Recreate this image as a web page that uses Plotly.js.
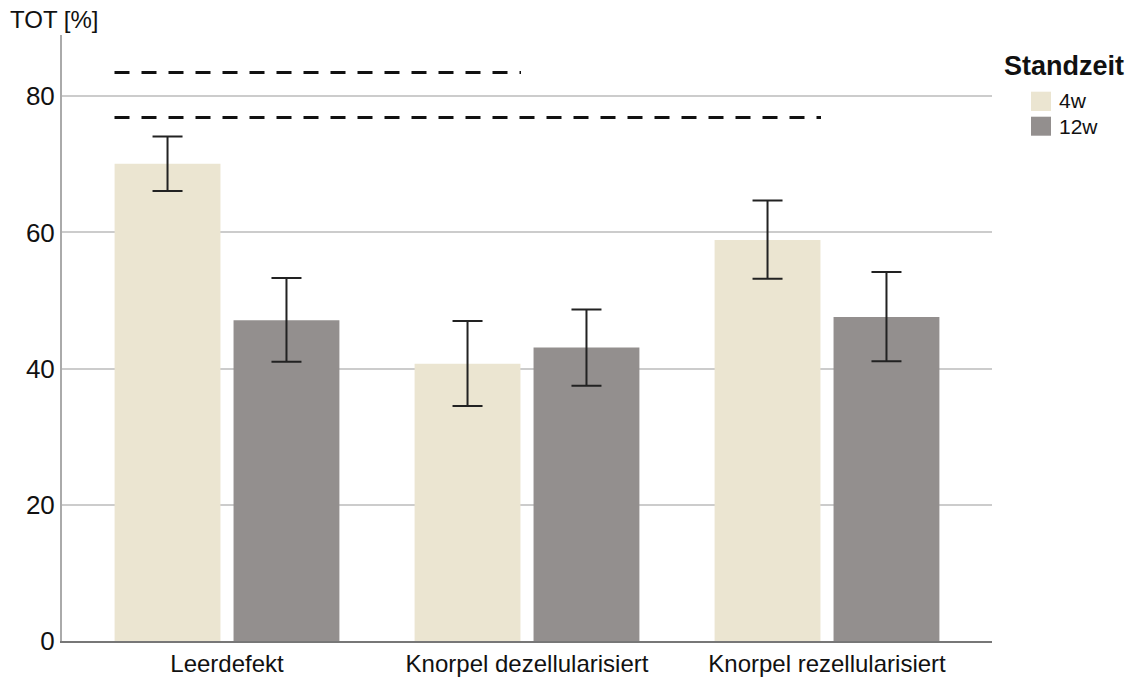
<!DOCTYPE html>
<html>
<head>
<meta charset="utf-8">
<script src="https://cdn.plot.ly/plotly-3.0.1.min.js"></script>
<style>html,body{margin:0;padding:0;background:#fff;}#chart{width:1131px;height:677px;}</style>
</head>
<body>
<div id="chart"></div>
<script>
const categories = ["Leerdefekt", "Knorpel dezellularisiert", "Knorpel rezellularisiert"];
const seriesNames = ["4w", "12w"];
const series4w = [70.1, 40.7, 58.9];
const err4wUpper = [74.1, 47.0, 64.7];
const err4wLower = [66.1, 34.5, 53.2];
const series12w = [47.1, 43.1, 47.6];
const err12wUpper = [53.3, 48.7, 54.2];
const err12wLower = [41.0, 37.5, 41.1];
const yTicks = [0, 20, 40, 60, 80];
// significance brackets: level and span (in category units)
const sigLevels = [83.5, 76.9];
const sigFrom = [-0.375, -0.375];
const sigTo = [0.98, 1.98];

const colors = ["#ebe5d1", "#938f8e"];
const errStyle = {type: "data", symmetric: false, color: "#222222", thickness: 2, width: 15};

function errs(vals, up, lo) {
  return {
    ...errStyle,
    array: up.map((u, i) => u - vals[i]),
    arrayminus: lo.map((l, i) => vals[i] - l)
  };
}

const traces = [
  {type: "bar", name: seriesNames[0], x: categories, y: series4w, marker: {color: colors[0]},
   error_y: errs(series4w, err4wUpper, err4wLower), hoverinfo: "none"},
  {type: "bar", name: seriesNames[1], x: categories, y: series12w, marker: {color: colors[1]},
   error_y: errs(series12w, err12wUpper, err12wLower), hoverinfo: "none"}
];

const shapes = sigLevels.map((lv, i) => ({
  type: "line", xref: "x", yref: "y",
  x0: sigFrom[i], x1: sigTo[i], y0: lv, y1: lv,
  line: {color: "#111111", width: 3, dash: "15px,12px"}
}));

// custom legend (paper coordinates)
const legSwX = [1.04194, 1.06344];
const legSwY = [[0.87459, 0.90644], [0.83383, 0.86518]];
const legTextY = [0.89109, 0.84983];
seriesNames.forEach((n, i) => {
  shapes.push({type: "rect", xref: "paper", yref: "paper",
    x0: legSwX[0], x1: legSwX[1], y0: legSwY[i][0], y1: legSwY[i][1],
    fillcolor: colors[i], line: {width: 0}});
});

const annotations = [
  {text: "TOT [%]", xref: "paper", yref: "paper", x: -0.058, y: 1.0,
   xanchor: "left", yanchor: "bottom", yshift: 0, showarrow: false,
   font: {size: 24, color: "#111"}},
  {text: "<b>Standzeit</b>", xref: "paper", yref: "paper", x: 1.0105, y: 0.94884,
   xanchor: "left", yanchor: "middle", showarrow: false,
   font: {size: 27, color: "#111"}}
];
seriesNames.forEach((n, i) => {
  annotations.push({text: n, xref: "paper", yref: "paper", x: 1.0695, y: legTextY[i],
    xanchor: "left", yanchor: "middle", showarrow: false,
    font: {size: 21, color: "#111"}});
});

const layout = {
  width: 1131, height: 677,
  margin: {l: 62, r: 139, t: 35, b: 36},
  paper_bgcolor: "#fff", plot_bgcolor: "#fff",
  font: {family: "Liberation Sans, Arial, sans-serif", color: "#111"},
  barmode: "group", bargap: 0.207, bargroupgap: 0.11,
  showlegend: false,
  xaxis: {
    type: "category", range: [-0.55, 2.55],
    showgrid: false, zeroline: false,
    showline: true, linecolor: "#777", linewidth: 2,
    ticks: "", tickfont: {size: 24, color: "#111"}, automargin: false
  },
  yaxis: {
    range: [0, 89], tickvals: yTicks, ticktext: yTicks.map(String),
    showgrid: true, gridcolor: "#cccccc", gridwidth: 2,
    zeroline: false, showline: true, linecolor: "#aaaaaa", linewidth: 2,
    ticks: "", ticklen: 0, tickfont: {size: 26, color: "#111"}, automargin: false
  },
  shapes: shapes,
  annotations: annotations
};

Plotly.newPlot("chart", traces, layout, {displayModeBar: false, staticPlot: true});
</script>
</body>
</html>
